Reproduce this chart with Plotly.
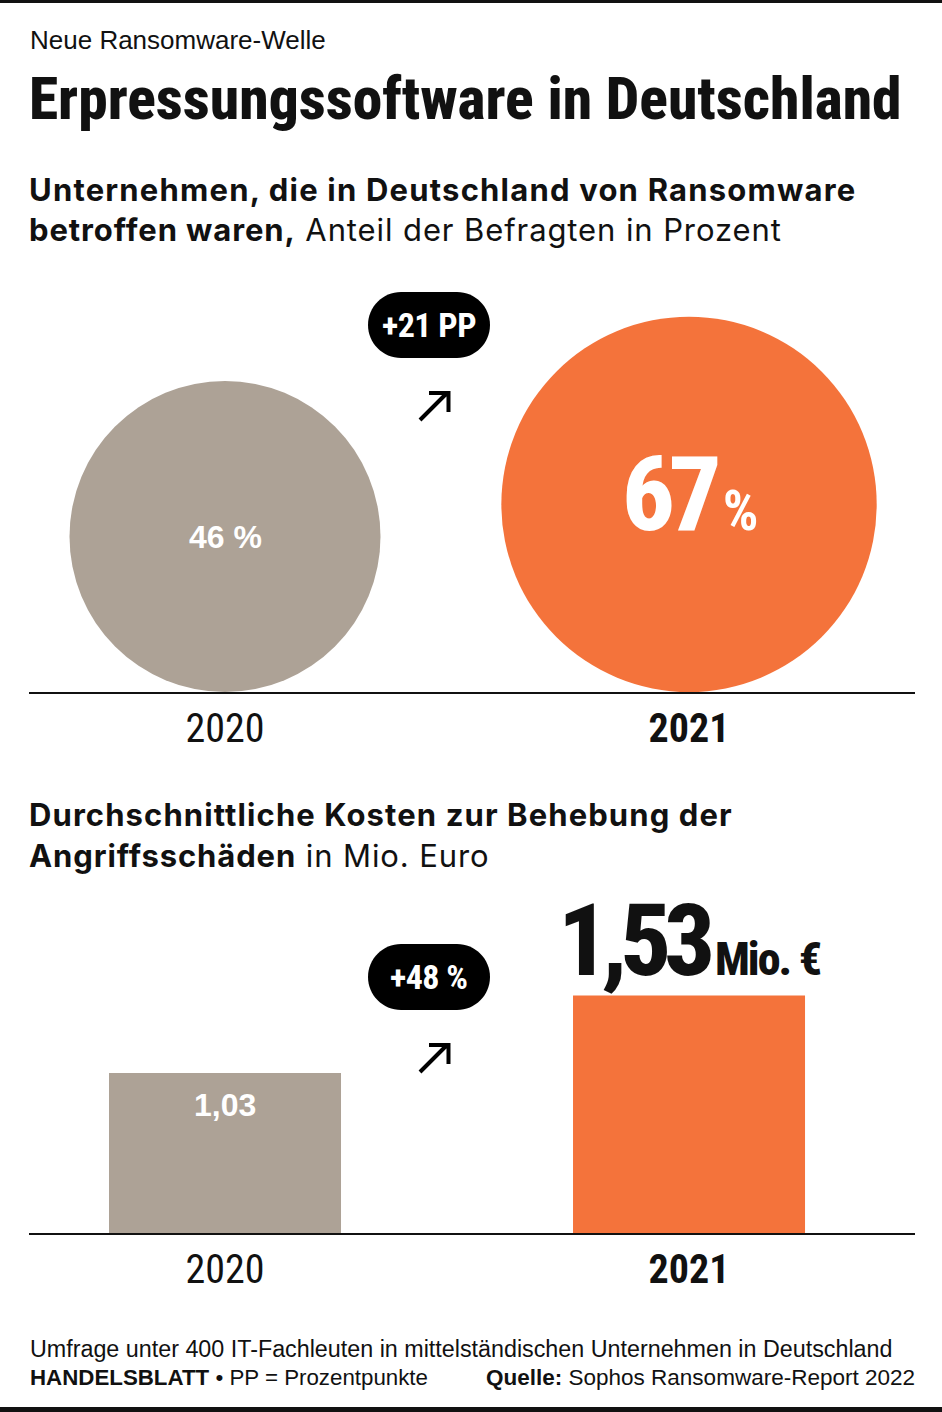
import math
import plotly.graph_objects as go

# ---------------- data ----------------
years = ["2020", "2021"]
share_pct = [46, 67]                 # % of companies hit by ransomware
share_labels = ["46 %", "67"]
share_change = "+21 PP"
cost_mio = [1.03, 1.53]              # average recovery cost, Mio. Euro
cost_labels = ["1,03", "1,53"]
cost_change = "+48 %"

# ---------------- styling ----------------
W, H = 942, 1412
GRAY = "#ADA296"
ORANGE = "#F4733B"
colors = [GRAY, ORANGE]
COND = "Roboto, Open Sans, sans-serif"
SANS = "Inter, Liberation Sans, Arial, sans-serif"
ARIAL = "Liberation Sans, Arial, sans-serif"


def cond(t, weight=700, extra=""):
    return f"<span style='font-stretch:75%;font-weight:{weight};{extra}'>{t}</span>"


def spaced(t, ls=1.0):
    return f"<span style='letter-spacing:{ls}px'>{t}</span>"


def fx(p):
    return p / W


def fy(p):
    return 1 - p / H


xpos = list(range(len(years)))
X_DOM = [fx(29), fx(915)]
X_RANGE = [-0.4224, 1.487]

TOP_BASE, TOP_TOP = 692, 270
BOT_BASE, BOT_TOP = 1233, 880
BAR_PX_PER_UNIT = 155.3

CIRCLE_K = 311 / math.sqrt(46)  # marker diameter (px) per sqrt(value) -> area proportional
diam = [CIRCLE_K * math.sqrt(v) for v in share_pct]

fig = go.Figure()

fig.add_trace(go.Scatter(
    x=xpos, y=[d / 2 for d in diam], mode="markers",
    marker=dict(size=diam, sizemode="diameter", color=colors, line=dict(width=0), opacity=1),
    cliponaxis=False, hoverinfo="skip", showlegend=False,
    xaxis="x", yaxis="y",
))

fig.add_trace(go.Bar(
    x=xpos, y=cost_mio, width=0.5, marker=dict(color=colors, line=dict(width=0)),
    hoverinfo="skip", showlegend=False, xaxis="x2", yaxis="y2",
))

axis_common = dict(
    domain=X_DOM, range=X_RANGE, type="linear", showgrid=False, zeroline=False,
    showline=True, linecolor="#111111", linewidth=2, ticks="", ticklen=0,
    tickvals=xpos, ticktext=[cond(y, 400 if i == 0 else 700) for i, y in enumerate(years)],
    ticklabelstandoff=0,
    tickfont=dict(family=COND, size=40, color="#111111"), fixedrange=True,
)

fig.update_layout(
    width=W, height=H, margin=dict(l=0, r=0, t=0, b=0),
    paper_bgcolor="white", plot_bgcolor="rgba(0,0,0,0)",
    xaxis=dict(axis_common, anchor="y"),
    yaxis=dict(domain=[fy(TOP_BASE), fy(TOP_TOP)], range=[0, TOP_BASE - TOP_TOP], visible=False, fixedrange=True),
    xaxis2=dict(axis_common, anchor="y2"),
    yaxis2=dict(domain=[fy(BOT_BASE), fy(BOT_TOP)], range=[0, (BOT_BASE - BOT_TOP) / BAR_PX_PER_UNIT],
                visible=False, fixedrange=True),
    showlegend=False,
)

ann = []


def text(x, y, t, size, family=SANS, color="#111111", xanchor="left", yanchor="middle", **kw):
    ann.append(dict(x=fx(x), y=fy(y), xref="paper", yref="paper", text=t, showarrow=False,
                    xanchor=xanchor, yanchor=yanchor, font=dict(family=family, size=size, color=color), **kw))


# header
text(28, 40, "Neue Ransomware-Welle", 26, family=ARIAL)
text(27, 99, cond("Erpressungssoftware in Deutschland", 800), 59.5, family=COND)
text(27, 189, spaced("<b>Unternehmen, die in Deutschland von Ransomware</b>", 1.2), 31)
text(27, 230, spaced("<b>betroffen waren,</b> Anteil der Befragten in Prozent", 0.9), 31)
text(27, 814, spaced("<b>Durchschnittliche Kosten zur Behebung der</b>", 1.1), 31)
text(27, 855, spaced("<b>Angriffsschäden</b> in Mio. Euro", 0.9), 31)

# footer
text(28, 1349, "Umfrage unter 400 IT-Fachleuten in mittelständischen Unternehmen in Deutschland", 23.3, family=ARIAL)
text(28, 1377, "<b>HANDELSBLATT</b> • PP = Prozentpunkte", 22.3, family=ARIAL)
text(917, 1377, "<b>Quelle:</b> Sophos Ransomware-Report 2022", 22.5, family=ARIAL, xanchor="right")

# circle value labels
ann.append(dict(x=xpos[0], y=diam[0] / 2, xref="x", yref="y", text=f"<b>{share_labels[0]}</b>",
                showarrow=False, font=dict(family=ARIAL, size=32, color="white")))
ann.append(dict(x=xpos[1], y=diam[1] / 2, xref="x", yref="y",
                text=cond(share_labels[1], 800, "font-size:104px;letter-spacing:-6px") +
                     cond("&nbsp;%", 700, "font-size:56px;letter-spacing:-6px"),
                showarrow=False, yshift=10, font=dict(family=COND, size=104, color="white")))

# bar value labels
ann.append(dict(x=xpos[0], y=cost_mio[0], xref="x2", yref="y2", text=f"<b>{cost_labels[0]}</b>",
                showarrow=False, yanchor="top", yshift=-12, font=dict(family=ARIAL, size=32, color="white")))
ann.append(dict(x=xpos[1], y=cost_mio[1], xref="x2", yref="y2",
                text=cond(cost_labels[1], 800, "font-size:100px;letter-spacing:-7px") +
                     cond("\u2009Mio. €", 800, "font-size:46px;letter-spacing:-2px"),
                showarrow=False, yanchor="bottom", yshift=-6, font=dict(family=COND, size=100, color="#111111")))

shapes = []


def pill(cx, cy, w, h):
    r = h / 2
    k = 0.5523 * r
    x0, x1 = cx - w / 2, cx + w / 2
    y0, y1 = cy - h / 2, cy + h / 2
    P = lambda x, y: f"{fx(x):.5f},{fy(y):.5f}"
    return ("M " + P(x0 + r, y0) + " L " + P(x1 - r, y0) +
            " C " + P(x1 - r + k, y0) + " " + P(x1, cy - k) + " " + P(x1, cy) +
            " C " + P(x1, cy + k) + " " + P(x1 - r + k, y1) + " " + P(x1 - r, y1) +
            " L " + P(x0 + r, y1) +
            " C " + P(x0 + r - k, y1) + " " + P(x0, cy + k) + " " + P(x0, cy) +
            " C " + P(x0, cy - k) + " " + P(x0 + r - k, y0) + " " + P(x0 + r, y0) + " Z")


def arrow(cx, cy):
    P = lambda x, y: f"{fx(x):.5f},{fy(y):.5f}"
    return ("M " + P(cx - 14, cy + 14) + " L " + P(cx + 13, cy - 13) +
            " M " + P(cx - 5, cy - 13) + " L " + P(cx + 14.5, cy - 13) + " L " + P(cx + 14.5, cy + 6))


for (cy, label) in [(325, share_change), (977, cost_change)]:
    shapes.append(dict(type="path", xref="paper", yref="paper", path=pill(429, cy, 122, 66),
                       fillcolor="#000000", line=dict(width=0)))
    shapes.append(dict(type="path", xref="paper", yref="paper", path=arrow(434, cy + 81),
                       line=dict(color="#000000", width=4)))
    text(429, cy, cond(label, 700, "letter-spacing:-0.5px"), 34, family=COND, color="white", xanchor="center")

# top & bottom rules
shapes.append(dict(type="rect", xref="paper", yref="paper", x0=0, x1=1, y0=fy(3), y1=fy(0),
                   fillcolor="#111111", line=dict(width=0)))
shapes.append(dict(type="rect", xref="paper", yref="paper", x0=0, x1=1, y0=fy(1412), y1=fy(1407),
                   fillcolor="#111111", line=dict(width=0)))

fig.update_layout(annotations=ann, shapes=shapes)
fig.write_html("out.html", config={"displayModeBar": False},
               post_script="document.body.style.margin='0px';")
